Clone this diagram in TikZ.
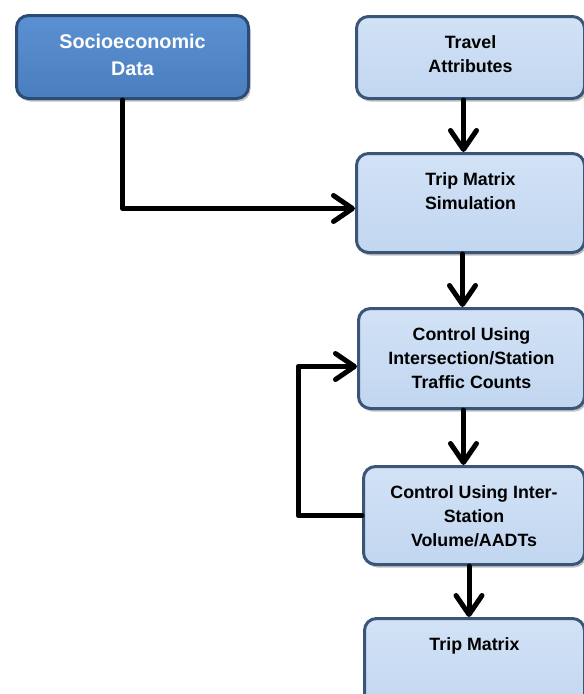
\documentclass[tikz,border=0pt]{standalone}
\usepackage{fontspec}
\setmainfont{Liberation Sans}
\usetikzlibrary{arrows.meta,shadows,calc}
\definecolor{darkfill}{HTML}{4A7EBE}
\definecolor{darkfilltop}{HTML}{5B90D2}
\definecolor{darkborder}{HTML}{2B4C75}
\definecolor{lightfill}{HTML}{C1D6F0}
\definecolor{lightfilltop}{HTML}{D2E2F6}
\definecolor{lightborder}{HTML}{3A5577}
\newcommand{\lbox}[3]{\parbox[c][#2pt][t]{#1pt}{\centering\fontsize{17.8}{24}\selectfont\bfseries\rule{0pt}{32pt}#3}}
\newcommand{\dbox}[3]{\parbox[c][#2pt][t]{#1pt}{\centering\fontsize{19.8}{27}\selectfont\bfseries\rule{0pt}{33pt}#3}}
\tikzset{
  flowbox/.style={rounded corners=12pt, line width=3pt, inner sep=0pt, anchor=north west,
    drop shadow={shadow xshift=2pt, shadow yshift=-3pt, opacity=0.35, fill=black!70}},
  darkbox/.style={flowbox, draw=darkborder, top color=darkfilltop, bottom color=darkfill, text=white},
  lightbox/.style={flowbox, draw=lightborder, top color=lightfilltop, bottom color=lightfill, text=black},
  arr/.style={line width=5pt, line join=round, line cap=round,
    -{Straight Barb[length=19pt,width=26pt,line cap=round,line join=round]}}
}
\begin{document}
\begin{tikzpicture}[x=1pt,y=-1pt]
\useasboundingbox (0,0) rectangle (584,694);
\clip (0,0) rectangle (584,694);
\fill[white] (0,0) rectangle (584,694);
\node[darkbox]  (socio)  at (15,14)  {\dbox{232}{83}{Socioeconomic\\Data}};
\node[lightbox] (travel) at (355,15) {\lbox{228}{82}{Travel\\Attributes}};
\node[lightbox] (tms)    at (355,152) {\lbox{228}{99}{Trip Matrix\\Simulation}};
\node[lightbox] (cui)    at (357,307) {\lbox{226}{100}{Control Using\\Intersection/Station\\Traffic Counts}};
\node[lightbox] (cuis)   at (362,465) {\lbox{221}{98}{Control Using Inter-\\Station\\Volume/AADTs}};
\node[lightbox] (tm)     at (363,617) {\lbox{220}{98}{Trip Matrix}};
\draw[arr] ([xshift=-10pt]socio.south) |- ([yshift=-5.5pt]tms.west);
\draw[arr] ([xshift=-7pt]travel.south) -- ([xshift=-7pt]travel.south |- tms.north);
\draw[arr] ([xshift=-8pt]tms.south) -- ([xshift=-8pt]tms.south |- cui.north);
\draw[arr] ([xshift=-8pt]cui.south) -- ([xshift=-8pt]cui.south |- cuis.north);
\draw[arr] ([xshift=-5pt]cuis.south) -- ([xshift=-5pt]cuis.south |- tm.north);
\draw[arr] (cuis.west) -- ++(-64,0) |- ([yshift=-8pt]cui.west);
\end{tikzpicture}
\end{document}
